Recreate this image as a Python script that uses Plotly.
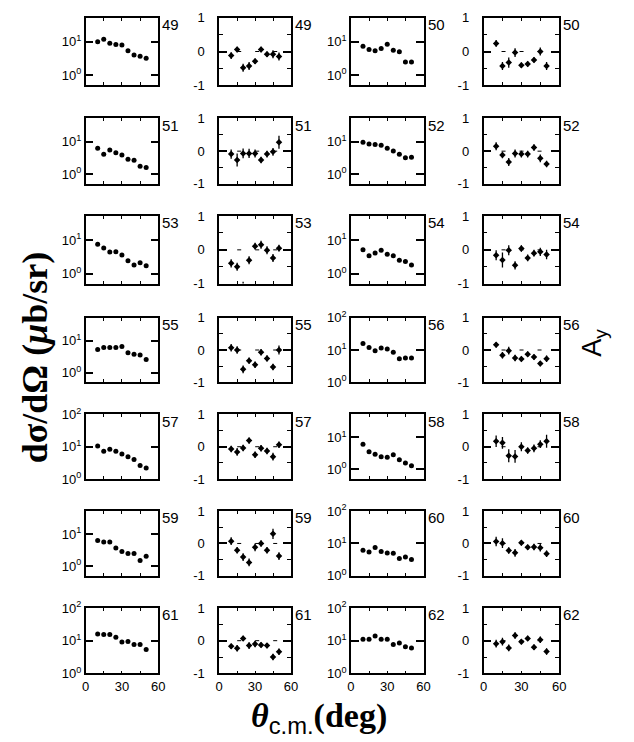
import plotly.graph_objects as go

W, H = 634, 742

theta = [10, 15, 20, 25, 30, 35, 40, 45, 50]

# cross sections (microbarn/sr)
sig_49 = [10.0, 12.0, 9.1, 8.3, 8.0, 5.4, 4.0, 3.7, 3.2]
sig_50 = [7.4, 5.9, 5.4, 6.3, 8.5, 5.6, 5.0, 2.5, 2.5]
sig_51 = [6.3, 4.1, 5.6, 4.6, 3.9, 2.9, 2.7, 1.75, 1.6]
sig_52 = [9.6, 8.6, 8.2, 7.8, 6.3, 5.2, 4.1, 3.2, 3.3]
sig_53 = [7.6, 5.8, 4.4, 4.5, 3.6, 2.4, 1.8, 2.1, 1.7]
sig_54 = [5.2, 3.4, 4.1, 5.0, 3.8, 3.4, 2.5, 2.3, 1.8]
sig_55 = [5.3, 6.1, 6.1, 6.1, 6.6, 4.2, 3.8, 3.6, 2.6]
sig_56 = [16.0, 12.0, 9.5, 11.5, 10.7, 8.5, 5.4, 5.6, 5.6]
sig_57 = [10.5, 7.3, 8.4, 7.3, 5.9, 4.9, 4.0, 2.6, 2.2]
sig_58 = [6.1, 3.6, 3.0, 2.5, 2.4, 2.9, 2.0, 1.6, 1.3]
sig_59 = [6.4, 5.7, 5.7, 3.7, 2.85, 2.5, 2.5, 1.5, 2.05]
sig_60 = [6.2, 5.4, 7.5, 5.6, 5.1, 5.0, 3.4, 3.8, 3.2]
sig_61 = [16.0, 15.4, 15.4, 12.8, 9.1, 9.5, 7.6, 7.6, 5.4]
sig_62 = [11.0, 11.0, 14.0, 11.0, 11.0, 7.6, 8.5, 6.5, 6.0]

# analyzing powers and errors
ay_49 = [-0.12, 0.06, -0.48, -0.43, -0.29, 0.06, -0.08, -0.08, -0.15]
ay_49_err = [0.10, 0.08, 0.12, 0.12, 0.08, 0.08, 0.08, 0.12, 0.12]
ay_50 = [0.24, -0.43, -0.33, -0.03, -0.41, -0.37, -0.25, 0.0, -0.43]
ay_50_err = [0.10, 0.12, 0.15, 0.13, 0.08, 0.08, 0.08, 0.12, 0.12]
ay_51 = [-0.09, -0.27, -0.07, -0.07, -0.07, -0.27, -0.09, -0.02, 0.27]
ay_51_err = [0.14, 0.20, 0.15, 0.14, 0.12, 0.10, 0.10, 0.12, 0.20]
ay_52 = [0.15, -0.12, -0.33, -0.07, -0.09, -0.09, 0.11, -0.22, -0.39]
ay_52_err = [0.12, 0.10, 0.12, 0.12, 0.10, 0.10, 0.10, 0.12, 0.10]
ay_53 = [-0.40, -0.50, -1.20, -0.31, 0.11, 0.15, -0.01, -0.24, 0.05]
ay_53_err = [0.12, 0.12, 0.25, 0.12, 0.10, 0.12, 0.12, 0.12, 0.10]
ay_54 = [-0.16, -0.30, -0.01, -0.46, 0.04, -0.24, -0.10, -0.06, -0.14]
ay_54_err = [0.15, 0.22, 0.15, 0.12, 0.10, 0.10, 0.10, 0.12, 0.14]
ay_55 = [0.07, 0.0, -0.60, -0.33, -0.46, -0.07, -0.26, -0.53, 0.0]
ay_55_err = [0.12, 0.12, 0.12, 0.10, 0.10, 0.10, 0.10, 0.10, 0.14]
ay_56 = [0.16, -0.16, -0.02, -0.25, -0.28, -0.13, -0.22, -0.42, -0.27]
ay_56_err = [0.08, 0.10, 0.12, 0.10, 0.08, 0.08, 0.08, 0.08, 0.10]
ay_57 = [-0.07, -0.16, -0.04, 0.19, -0.25, -0.05, -0.13, -0.31, 0.06]
ay_57_err = [0.10, 0.12, 0.10, 0.10, 0.10, 0.10, 0.10, 0.12, 0.10]
ay_58 = [0.17, 0.12, -0.28, -0.30, 0.0, -0.12, -0.05, 0.08, 0.17]
ay_58_err = [0.18, 0.18, 0.20, 0.20, 0.14, 0.10, 0.12, 0.12, 0.20]
ay_59 = [0.07, -0.21, -0.42, -0.59, -0.12, 0.0, -0.21, 0.30, -0.39]
ay_59_err = [0.12, 0.10, 0.12, 0.12, 0.12, 0.10, 0.10, 0.16, 0.12]
ay_60 = [0.06, 0.01, -0.22, -0.29, 0.02, -0.12, -0.11, -0.13, -0.32]
ay_60_err = [0.15, 0.15, 0.10, 0.12, 0.08, 0.08, 0.10, 0.12, 0.10]
ay_61 = [-0.17, -0.23, 0.07, -0.15, -0.10, -0.13, -0.15, -0.50, -0.34]
ay_61_err = [0.08, 0.10, 0.08, 0.10, 0.10, 0.08, 0.08, 0.10, 0.10]
ay_62 = [-0.09, -0.03, -0.22, 0.16, -0.03, 0.07, -0.20, 0.03, -0.33]
ay_62_err = [0.12, 0.12, 0.10, 0.10, 0.08, 0.08, 0.08, 0.10, 0.10]

sig = {49: sig_49, 50: sig_50, 51: sig_51, 52: sig_52, 53: sig_53, 54: sig_54,
       55: sig_55, 56: sig_56, 57: sig_57, 58: sig_58, 59: sig_59, 60: sig_60,
       61: sig_61, 62: sig_62}
ay = {49: (ay_49, ay_49_err), 50: (ay_50, ay_50_err), 51: (ay_51, ay_51_err),
      52: (ay_52, ay_52_err), 53: (ay_53, ay_53_err), 54: (ay_54, ay_54_err),
      55: (ay_55, ay_55_err), 56: (ay_56, ay_56_err), 57: (ay_57, ay_57_err),
      58: (ay_58, ay_58_err), 59: (ay_59, ay_59_err), 60: (ay_60, ay_60_err),
      61: (ay_61, ay_61_err), 62: (ay_62, ay_62_err)}
wide_range = {56, 57, 60, 61, 62}

x_ticks = [0, 30, 60]
x_ticktext = ["0", "30", "60"]
log_ticks = [1, 10, 100]
log_ticktext = ["10<sup>0</sup>", "10<sup>1</sup>", "10<sup>2</sup>"]
ay_ticks = [-1, 0, 1]
ay_ticktext = ["-1", "0", "1"]

row_top = [9, 112, 212, 316, 415, 514, 613]
row_bot = [78, 179, 281, 382, 481, 580, 680]
col_l = [83, 219, 353, 488]
col_r = [157, 292, 427, 565]

SANS = "Liberation Sans, Arial, sans-serif"
SERIF = "Liberation Serif, Times New Roman, serif"

fig = go.Figure()
layout = dict(width=W, height=H, margin=dict(l=0, r=0, t=0, b=0),
              paper_bgcolor="white", plot_bgcolor="white", showlegend=False,
              font=dict(family=SANS, size=13, color="black"))
annotations = []
shapes = []

n = 0
for r in range(7):
    for c in range(4):
        n += 1
        num = 49 + 2 * r + (1 if c >= 2 else 0)
        xa = "x" if n == 1 else f"x{n}"
        ya = "y" if n == 1 else f"y{n}"
        xkey = "xaxis" if n == 1 else f"xaxis{n}"
        ykey = "yaxis" if n == 1 else f"yaxis{n}"
        bottom = (r == 6)
        layout[xkey] = dict(
            domain=[col_l[c] / W, col_r[c] / W], anchor=ya, range=[0, 60],
            showline=True, linecolor="black", linewidth=1.5, mirror="ticks",
            ticks="inside", ticklen=3, tickwidth=1, tickcolor="black",
            tickvals=x_ticks, ticktext=x_ticktext, showticklabels=bottom,
            minor=dict(tickvals=[15, 45], ticks="inside", ticklen=3,
                       tickwidth=1, tickcolor="black"),
            tickfont=dict(size=13, family=SANS), showgrid=False, zeroline=False,
            fixedrange=True)
        ydom = [1 - row_bot[r] / H, 1 - row_top[r] / H]
        if c in (0, 2):
            rng = [0, 2] if num in wide_range else [-0.3, 1.72]
            layout[ykey] = dict(
                domain=ydom, anchor=xa, type="log", range=rng,
                showline=True, linecolor="black", linewidth=1.5, mirror="ticks",
                ticks="inside", ticklen=8, tickwidth=1.5, tickcolor="black",
                tickvals=log_ticks, ticktext=log_ticktext,
                tickfont=dict(size=13, family=SANS), showgrid=False,
                zeroline=False, fixedrange=True)
            fig.add_trace(go.Scatter(
                x=theta, y=sig[num], mode="markers", xaxis=xa, yaxis=ya,
                marker=dict(size=5, color="black", symbol="circle")))
        else:
            layout[ykey] = dict(
                domain=ydom, anchor=xa, range=[-1, 1],
                showline=True, linecolor="black", linewidth=1.5, mirror="ticks",
                ticks="inside", ticklen=8, tickwidth=1.5, tickcolor="black",
                tickvals=ay_ticks, ticktext=ay_ticktext, ticklabelstandoff=10,
                minor=dict(tickvals=[-0.5, 0.5], ticks="inside", ticklen=4,
                           tickwidth=1, tickcolor="black"),
                tickfont=dict(size=13, family=SANS), showgrid=False,
                zeroline=False, fixedrange=True)
            vals, errs = ay[num]
            shapes.append(dict(type="line", xref=xa, yref=ya, x0=0, x1=60, y0=0, y1=0,
                               line=dict(color="black", width=1, dash="4px,14px"),
                               layer="below"))
            fig.add_trace(go.Scatter(
                x=theta, y=vals, mode="markers", xaxis=xa, yaxis=ya,
                marker=dict(size=5, color="black", symbol="diamond"),
                error_y=dict(type="data", array=errs, visible=True,
                             thickness=1.3, width=0, color="black")))
        annotations.append(dict(
            xref="paper", yref="paper", x=(col_r[c] + 2) / W,
            y=1 - (row_top[r] - 4) / H, xanchor="left", yanchor="top",
            text=str(num), showarrow=False,
            font=dict(size=15, family=SANS, color="black")))

annotations.append(dict(
    xref="paper", yref="paper", x=31 / W, y=1 - 357 / H,
    text="<b>dσ/dΩ (<i>μ</i>b/sr)</b>", textangle=-90, showarrow=False,
    xanchor="center", yanchor="middle",
    font=dict(size=36, family=SERIF, color="black")))
annotations.append(dict(
    xref="paper", yref="paper", x=601 / W, y=1 - 342 / H,
    text="A<sub>y</sub>", textangle=-90, showarrow=False,
    xanchor="center", yanchor="middle",
    font=dict(size=27, family=SANS, color="black")))
annotations.append(dict(
    xref="paper", yref="paper", x=321 / W, y=1 - 726 / H,
    text="<b><i>θ</i></b><sub><span style=\"font-family:Liberation Sans\">c.m.</span></sub><b>(deg)</b>",
    showarrow=False, xanchor="center", yanchor="middle",
    font=dict(size=34, family=SERIF, color="black")))

layout["annotations"] = annotations
layout["shapes"] = shapes
fig.update_layout(**layout)
fig.write_html("out.html")
